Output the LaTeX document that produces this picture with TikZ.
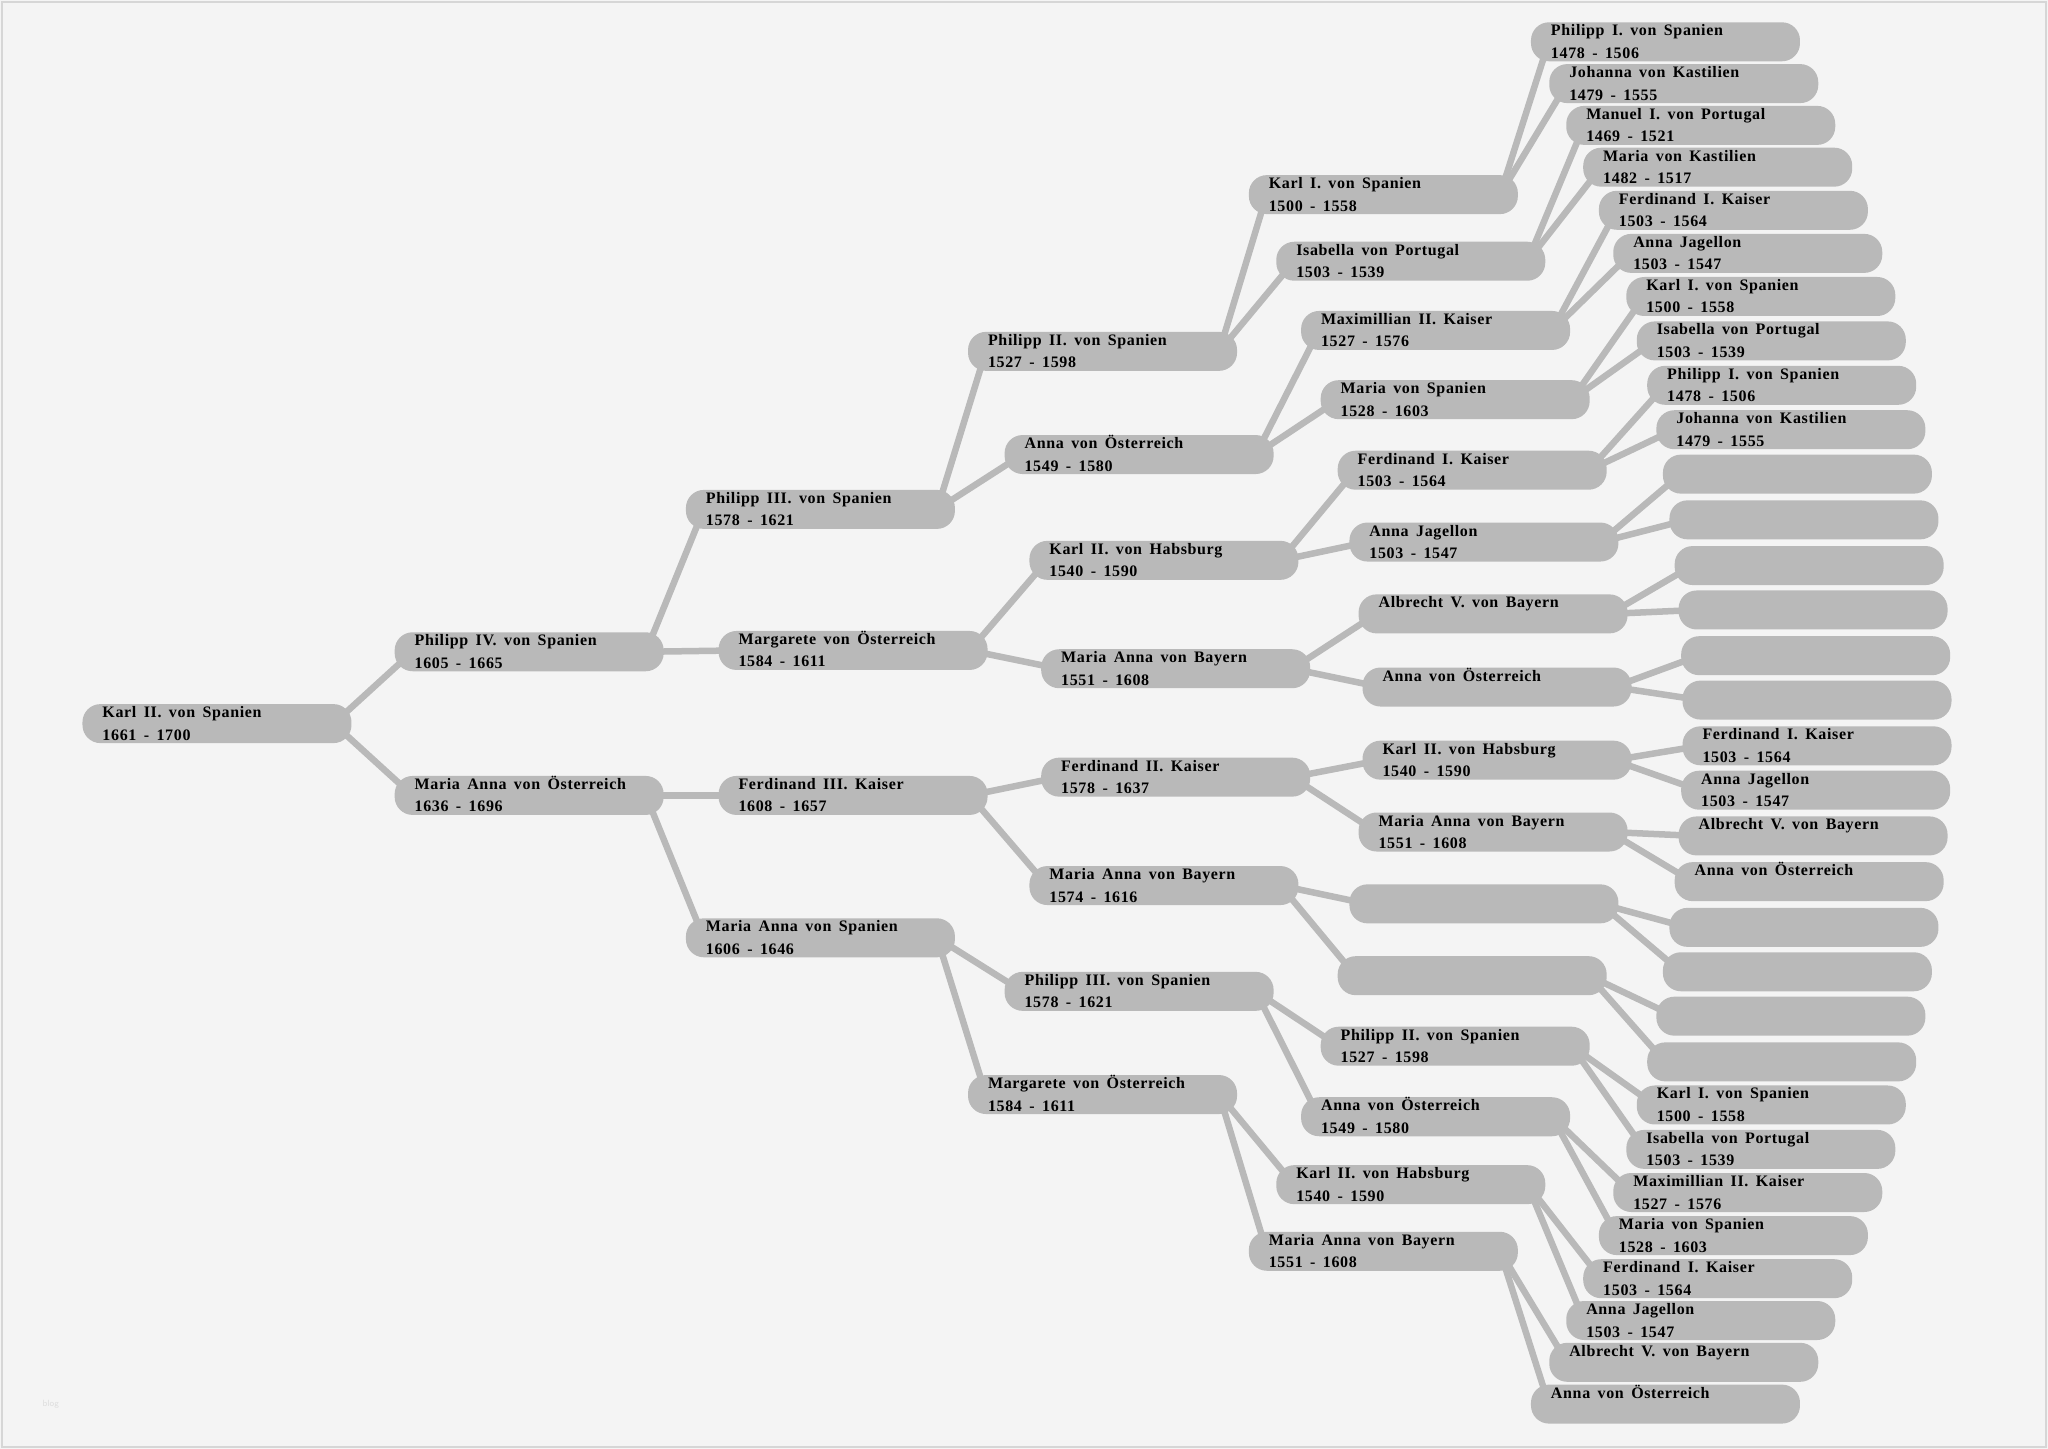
\documentclass[tikz,border=0pt]{standalone}
\usepackage{fontspec}
\setmainfont{Liberation Serif}[LetterSpace=4.0,WordSpace=1.6]
\definecolor{bgc}{HTML}{F4F4F4}
\definecolor{boxc}{HTML}{B9B9B9}
\definecolor{framec}{HTML}{D6D6D6}
\definecolor{markc}{HTML}{DDDDDD}
\pgfdeclarelayer{bgl}\pgfdeclarelayer{linel}\pgfsetlayers{bgl,linel,main}
\newcommand\pers[2]{\parbox[c][39pt][t]{229pt}{\fontsize{16}{22.5}\selectfont\bfseries\rule{0pt}{13.5pt}#1\\#2}}
\tikzset{
  pbox/.style={fill=boxc, rounded corners=18pt, inner sep=0pt, minimum width=269pt, minimum height=39pt, anchor=west},
  link/.style={draw=boxc, line width=6.5pt}
}
\begin{document}
\begin{tikzpicture}[x=1.30612pt,y=-1.30612pt]
\useasboundingbox (0,0) rectangle (1568,1109);
\begin{pgfonlayer}{bgl}
\fill[bgc] (0,0) rectangle (1568,1109);
\draw[framec, line width=2pt] (1.5,1.5) rectangle (1566.5,1107.5);
\node[font=\sffamily\fontsize{9}{9}\selectfont, text=markc, anchor=west] (wm) at (30,1075) {blog};
\end{pgfonlayer}
% generation 0
\node[pbox] (r) at (63,554) {\pers{Karl II. von Spanien}{1661 - 1700}};
% generation 1
\node[pbox] (a1) at (302,499) {\pers{Philipp IV. von Spanien}{1605 - 1665}};
\node[pbox] (a2) at (302,609) {\pers{Maria Anna von Österreich}{1636 - 1696}};
% generation 2
\node[pbox] (b1) at (525,390) {\pers{Philipp III. von Spanien}{1578 - 1621}};
\node[pbox] (b2) at (550,498) {\pers{Margarete von Österreich}{1584 - 1611}};
\node[pbox] (b3) at (550,609) {\pers{Ferdinand III. Kaiser}{1608 - 1657}};
\node[pbox] (b4) at (525,718) {\pers{Maria Anna von Spanien}{1606 - 1646}};
% generation 3
\node[pbox] (c1) at (741,269) {\pers{Philipp II. von Spanien}{1527 - 1598}};
\node[pbox] (c2) at (769,348) {\pers{Anna von Österreich}{1549 - 1580}};
\node[pbox] (c3) at (788,429) {\pers{Karl II. von Habsburg}{1540 - 1590}};
\node[pbox] (c4) at (797,512) {\pers{Maria Anna von Bayern}{1551 - 1608}};
\node[pbox] (c5) at (797,595) {\pers{Ferdinand II. Kaiser}{1578 - 1637}};
\node[pbox] (c6) at (788,678) {\pers{Maria Anna von Bayern}{1574 - 1616}};
\node[pbox] (c7) at (769,759) {\pers{Philipp III. von Spanien}{1578 - 1621}};
\node[pbox] (c8) at (741,838) {\pers{Margarete von Österreich}{1584 - 1611}};
% generation 4
\node[pbox] (d1) at (956,149) {\pers{Karl I. von Spanien}{1500 - 1558}};
\node[pbox] (d2) at (977,200) {\pers{Isabella von Portugal}{1503 - 1539}};
\node[pbox] (d3) at (996,253) {\pers{Maximillian II. Kaiser}{1527 - 1576}};
\node[pbox] (d4) at (1011,306) {\pers{Maria von Spanien}{1528 - 1603}};
\node[pbox] (d5) at (1024,360) {\pers{Ferdinand I. Kaiser}{1503 - 1564}};
\node[pbox] (d6) at (1033,415) {\pers{Anna Jagellon}{1503 - 1547}};
\node[pbox] (d7) at (1040,470) {\pers{Albrecht V. von Bayern}{}};
\node[pbox] (d8) at (1043,526) {\pers{Anna von Österreich}{}};
\node[pbox] (d9) at (1043,582) {\pers{Karl II. von Habsburg}{1540 - 1590}};
\node[pbox] (d10) at (1040,637) {\pers{Maria Anna von Bayern}{1551 - 1608}};
\node[pbox] (d11) at (1033,692) {\pers{}{}};
\node[pbox] (d12) at (1024,747) {\pers{}{}};
\node[pbox] (d13) at (1011,801) {\pers{Philipp II. von Spanien}{1527 - 1598}};
\node[pbox] (d14) at (996,855) {\pers{Anna von Österreich}{1549 - 1580}};
\node[pbox] (d15) at (977,907) {\pers{Karl II. von Habsburg}{1540 - 1590}};
\node[pbox] (d16) at (956,958) {\pers{Maria Anna von Bayern}{1551 - 1608}};
% generation 5
\node[pbox] (e1) at (1172,32) {\pers{Philipp I. von Spanien}{1478 - 1506}};
\node[pbox] (e2) at (1186,64) {\pers{Johanna von Kastilien}{1479 - 1555}};
\node[pbox] (e3) at (1199,96) {\pers{Manuel I. von Portugal}{1469 - 1521}};
\node[pbox] (e4) at (1212,128) {\pers{Maria von Kastilien}{1482 - 1517}};
\node[pbox] (e5) at (1224,161) {\pers{Ferdinand I. Kaiser}{1503 - 1564}};
\node[pbox] (e6) at (1235,194) {\pers{Anna Jagellon}{1503 - 1547}};
\node[pbox] (e7) at (1245,227) {\pers{Karl I. von Spanien}{1500 - 1558}};
\node[pbox] (e8) at (1253,261) {\pers{Isabella von Portugal}{1503 - 1539}};
\node[pbox] (e9) at (1261,295) {\pers{Philipp I. von Spanien}{1478 - 1506}};
\node[pbox] (e10) at (1268,329) {\pers{Johanna von Kastilien}{1479 - 1555}};
\node[pbox] (e11) at (1273,363) {\pers{}{}};
\node[pbox] (e12) at (1278,398) {\pers{}{}};
\node[pbox] (e13) at (1282,433) {\pers{}{}};
\node[pbox] (e14) at (1285,467) {\pers{}{}};
\node[pbox] (e15) at (1287,502) {\pers{}{}};
\node[pbox] (e16) at (1288,536) {\pers{}{}};
\node[pbox] (e17) at (1288,571) {\pers{Ferdinand I. Kaiser}{1503 - 1564}};
\node[pbox] (e18) at (1287,605) {\pers{Anna Jagellon}{1503 - 1547}};
\node[pbox] (e19) at (1285,640) {\pers{Albrecht V. von Bayern}{}};
\node[pbox] (e20) at (1282,675) {\pers{Anna von Österreich}{}};
\node[pbox] (e21) at (1278,710) {\pers{}{}};
\node[pbox] (e22) at (1273,744) {\pers{}{}};
\node[pbox] (e23) at (1268,778) {\pers{}{}};
\node[pbox] (e24) at (1261,813) {\pers{}{}};
\node[pbox] (e25) at (1253,846) {\pers{Karl I. von Spanien}{1500 - 1558}};
\node[pbox] (e26) at (1245,880) {\pers{Isabella von Portugal}{1503 - 1539}};
\node[pbox] (e27) at (1235,913) {\pers{Maximillian II. Kaiser}{1527 - 1576}};
\node[pbox] (e28) at (1224,946) {\pers{Maria von Spanien}{1528 - 1603}};
\node[pbox] (e29) at (1212,979) {\pers{Ferdinand I. Kaiser}{1503 - 1564}};
\node[pbox] (e30) at (1199,1011) {\pers{Anna Jagellon}{1503 - 1547}};
\node[pbox] (e31) at (1186,1043) {\pers{Albrecht V. von Bayern}{}};
\node[pbox] (e32) at (1172,1075) {\pers{Anna von Österreich}{}};
% connectors (between the centres of the rounded ends)
\begin{pgfonlayer}{linel}
\foreach \p/\c in {r/a1,r/a2,a1/b1,a1/b2,a2/b3,a2/b4,b1/c1,b1/c2,b2/c3,b2/c4,b3/c5,b3/c6,b4/c7,b4/c8}
  \draw[link] ([xshift=-18pt]\p.east) -- ([xshift=18pt]\c.west);
\foreach \i in {1,...,8}{
  \pgfmathtruncatemacro\ka{2*\i-1}
  \pgfmathtruncatemacro\kb{2*\i}
  \draw[link] ([xshift=-18pt]c\i.east) -- ([xshift=18pt]d\ka.west);
  \draw[link] ([xshift=-18pt]c\i.east) -- ([xshift=18pt]d\kb.west);
}
\foreach \i in {1,...,16}{
  \pgfmathtruncatemacro\ka{2*\i-1}
  \pgfmathtruncatemacro\kb{2*\i}
  \draw[link] ([xshift=-18pt]d\i.east) -- ([xshift=18pt]e\ka.west);
  \draw[link] ([xshift=-18pt]d\i.east) -- ([xshift=18pt]e\kb.west);
}
\end{pgfonlayer}
\end{tikzpicture}
\end{document}
